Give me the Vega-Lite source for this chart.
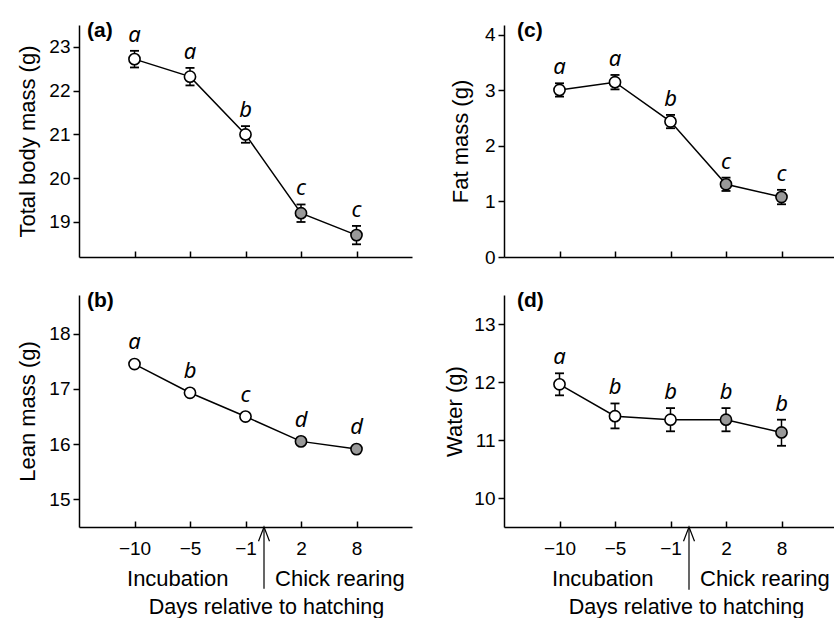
{
  "$schema": "https://vega.github.io/schema/vega-lite/v6.json",
  "padding": {"left": 16, "top": 20, "right": 0, "bottom": 0},
  "background": "white",
  "datasets": {
    "body": [
      {"panel": "a", "day": -10, "mean": 22.72, "lo": 22.53, "hi": 22.91, "letter": "a", "phase": "Incubation"},
      {"panel": "a", "day": -5, "mean": 22.32, "lo": 22.12, "hi": 22.52, "letter": "a", "phase": "Incubation"},
      {"panel": "a", "day": -1, "mean": 21.0, "lo": 20.81, "hi": 21.19, "letter": "b", "phase": "Incubation"},
      {"panel": "a", "day": 2, "mean": 19.2, "lo": 19.0, "hi": 19.4, "letter": "c", "phase": "Chick rearing"},
      {"panel": "a", "day": 8, "mean": 18.7, "lo": 18.49, "hi": 18.91, "letter": "c", "phase": "Chick rearing"},
      {"panel": "b", "day": -10, "mean": 17.45, "lo": 17.4, "hi": 17.5, "letter": "a", "phase": "Incubation"},
      {"panel": "b", "day": -5, "mean": 16.93, "lo": 16.88, "hi": 16.98, "letter": "b", "phase": "Incubation"},
      {"panel": "b", "day": -1, "mean": 16.5, "lo": 16.45, "hi": 16.55, "letter": "c", "phase": "Incubation"},
      {"panel": "b", "day": 2, "mean": 16.05, "lo": 16.0, "hi": 16.1, "letter": "d", "phase": "Chick rearing"},
      {"panel": "b", "day": 8, "mean": 15.91, "lo": 15.86, "hi": 15.96, "letter": "d", "phase": "Chick rearing"},
      {"panel": "c", "day": -10, "mean": 3.01, "lo": 2.89, "hi": 3.13, "letter": "a", "phase": "Incubation"},
      {"panel": "c", "day": -5, "mean": 3.15, "lo": 3.02, "hi": 3.28, "letter": "a", "phase": "Incubation"},
      {"panel": "c", "day": -1, "mean": 2.44, "lo": 2.32, "hi": 2.56, "letter": "b", "phase": "Incubation"},
      {"panel": "c", "day": 2, "mean": 1.31, "lo": 1.19, "hi": 1.43, "letter": "c", "phase": "Chick rearing"},
      {"panel": "c", "day": 8, "mean": 1.08, "lo": 0.95, "hi": 1.21, "letter": "c", "phase": "Chick rearing"},
      {"panel": "d", "day": -10, "mean": 11.96, "lo": 11.77, "hi": 12.15, "letter": "a", "phase": "Incubation"},
      {"panel": "d", "day": -5, "mean": 11.41, "lo": 11.2, "hi": 11.63, "letter": "b", "phase": "Incubation"},
      {"panel": "d", "day": -1, "mean": 11.35, "lo": 11.15, "hi": 11.55, "letter": "b", "phase": "Incubation"},
      {"panel": "d", "day": 2, "mean": 11.35, "lo": 11.15, "hi": 11.55, "letter": "b", "phase": "Chick rearing"},
      {"panel": "d", "day": 8, "mean": 11.13, "lo": 10.9, "hi": 11.35, "letter": "b", "phase": "Chick rearing"}
    ]
  },
  "columns": 2,
  "spacing": {"column": 92, "row": 38},
  "bounds": "flush",
  "concat": [
    {
      "width": 333, "height": 232,
      "data": {"name": "body"},
      "transform": [{"filter": "datum.panel === 'a'"}],
      "encoding": {
        "x": {"field": "day", "type": "quantitative",
          "scale": {"type": "linear", "domain": [-15, -10, -5, -1, 2, 8, 14], "range": [0, 55.5, 111, 166.5, 222, 277.5, 333], "zero": false, "nice": false},
          "axis": {"values": [-10, -5, -1, 2, 8], "labels": false, "title": null, "tickSize": -6}}
      },
      "layer": [
        {"mark": {"type": "line", "color": "black", "strokeWidth": 1.5},
         "encoding": {"y": {"field": "mean", "type": "quantitative", "scale": {"domain": [18.2, 23.5], "zero": false, "nice": false},
           "axis": {"values": [19, 20, 21, 22, 23], "format": "d", "title": "Total body mass (g)", "tickSize": 6, "labelPadding": 3, "titlePadding": 9}}}},
        {"mark": {"type": "rule", "color": "black", "strokeWidth": 1.5},
         "encoding": {"y": {"field": "lo", "type": "quantitative"}, "y2": {"field": "hi"}}},
        {"mark": {"type": "tick", "orient": "horizontal", "size": 9, "thickness": 1.8, "color": "black", "opacity": 1},
         "encoding": {"y": {"field": "lo", "type": "quantitative"}}},
        {"mark": {"type": "tick", "orient": "horizontal", "size": 9, "thickness": 1.8, "color": "black", "opacity": 1},
         "encoding": {"y": {"field": "hi", "type": "quantitative"}}},
        {"mark": {"type": "point", "filled": true, "size": 125, "stroke": "black", "strokeWidth": 1.6, "opacity": 1},
         "encoding": {"y": {"field": "mean", "type": "quantitative"},
           "fill": {"field": "phase", "type": "nominal", "scale": {"domain": ["Incubation", "Chick rearing"], "range": ["white", "#999999"]}, "legend": null}}},
        {"mark": {"type": "text", "font": "Noto Sans", "fontStyle": "italic", "fontSize": 22, "baseline": "alphabetic", "dy": -9, "color": "black"},
         "encoding": {"y": {"field": "hi", "type": "quantitative"}, "text": {"field": "letter"}}},
        {"transform": [{"filter": "datum.day === -10"}],
         "mark": {"type": "text", "font": "Liberation Sans", "fontWeight": "bold", "fontSize": 21, "align": "left", "baseline": "top", "dx": 8, "dy": -5, "color": "black"},
         "encoding": {"x": {"datum": -15}, "y": {"datum": 23.5}, "text": {"value": "(a)"}}}
      ]
    },
    {
      "width": 333, "height": 232,
      "data": {"name": "body"},
      "transform": [{"filter": "datum.panel === 'c'"}],
      "encoding": {
        "x": {"field": "day", "type": "quantitative",
          "scale": {"type": "linear", "domain": [-15, -10, -5, -1, 2, 8, 14], "range": [0, 55.5, 111, 166.5, 222, 277.5, 333], "zero": false, "nice": false},
          "axis": {"values": [-10, -5, -1, 2, 8], "labels": false, "title": null, "tickSize": -6}}
      },
      "layer": [
        {"mark": {"type": "line", "color": "black", "strokeWidth": 1.5},
         "encoding": {"y": {"field": "mean", "type": "quantitative", "scale": {"domain": [0, 4.18], "zero": false, "nice": false},
           "axis": {"values": [0, 1, 2, 3, 4], "format": "d", "title": "Fat mass (g)", "tickSize": 6, "labelPadding": 3, "titlePadding": 12}}}},
        {"mark": {"type": "rule", "color": "black", "strokeWidth": 1.5},
         "encoding": {"y": {"field": "lo", "type": "quantitative"}, "y2": {"field": "hi"}}},
        {"mark": {"type": "tick", "orient": "horizontal", "size": 9, "thickness": 1.8, "color": "black", "opacity": 1},
         "encoding": {"y": {"field": "lo", "type": "quantitative"}}},
        {"mark": {"type": "tick", "orient": "horizontal", "size": 9, "thickness": 1.8, "color": "black", "opacity": 1},
         "encoding": {"y": {"field": "hi", "type": "quantitative"}}},
        {"mark": {"type": "point", "filled": true, "size": 125, "stroke": "black", "strokeWidth": 1.6, "opacity": 1},
         "encoding": {"y": {"field": "mean", "type": "quantitative"},
           "fill": {"field": "phase", "type": "nominal", "scale": {"domain": ["Incubation", "Chick rearing"], "range": ["white", "#999999"]}, "legend": null}}},
        {"mark": {"type": "text", "font": "Noto Sans", "fontStyle": "italic", "fontSize": 22, "baseline": "alphabetic", "dy": -9, "color": "black"},
         "encoding": {"y": {"field": "hi", "type": "quantitative"}, "text": {"field": "letter"}}},
        {"transform": [{"filter": "datum.day === -10"}],
         "mark": {"type": "text", "font": "Liberation Sans", "fontWeight": "bold", "fontSize": 21, "align": "left", "baseline": "top", "dx": 13, "dy": -5, "color": "black"},
         "encoding": {"x": {"datum": -15}, "y": {"datum": 4.18}, "text": {"value": "(c)"}}}
      ]
    },
    {
      "width": 333, "height": 232,
      "data": {"name": "body"},
      "transform": [{"filter": "datum.panel === 'b'"}],
      "encoding": {
        "x": {"field": "day", "type": "quantitative",
          "scale": {"type": "linear", "domain": [-15, -10, -5, -1, 2, 8, 14], "range": [0, 55.5, 111, 166.5, 222, 277.5, 333], "zero": false, "nice": false},
          "axis": {"values": [-10, -5, -1, 2, 8], "title": "Days relative to hatching", "titleFontSize": 21.5, "tickSize": -6, "labelPadding": 18, "titleX": 187, "titleY": 69, "titleBaseline": "top"}}
      },
      "layer": [
        {"mark": {"type": "line", "color": "black", "strokeWidth": 1.5},
         "encoding": {"y": {"field": "mean", "type": "quantitative", "scale": {"domain": [14.5, 18.7], "zero": false, "nice": false},
           "axis": {"values": [15, 16, 17, 18], "format": "d", "title": "Lean mass (g)", "tickSize": 6, "labelPadding": 3, "titlePadding": 9}}}},
        {"mark": {"type": "rule", "color": "black", "strokeWidth": 1.5},
         "encoding": {"y": {"field": "lo", "type": "quantitative"}, "y2": {"field": "hi"}}},
        {"mark": {"type": "point", "filled": true, "size": 125, "stroke": "black", "strokeWidth": 1.6, "opacity": 1},
         "encoding": {"y": {"field": "mean", "type": "quantitative"},
           "fill": {"field": "phase", "type": "nominal", "scale": {"domain": ["Incubation", "Chick rearing"], "range": ["white", "#999999"]}, "legend": null}}},
        {"mark": {"type": "text", "font": "Noto Sans", "fontStyle": "italic", "fontSize": 22, "baseline": "alphabetic", "dy": -12, "color": "black"},
         "encoding": {"y": {"field": "hi", "type": "quantitative"}, "text": {"field": "letter"}}},
        {"transform": [{"filter": "datum.day === -10"}],
         "mark": {"type": "text", "font": "Liberation Sans", "fontWeight": "bold", "fontSize": 21, "align": "left", "baseline": "top", "dx": 8, "dy": -5, "color": "black"},
         "encoding": {"x": {"datum": -15}, "y": {"datum": 18.7}, "text": {"value": "(b)"}}},
        {"transform": [{"filter": "datum.day === -10"}],
         "mark": {"type": "text", "font": "Liberation Sans", "fontSize": 22, "baseline": "alphabetic", "dy": 59, "color": "black"},
         "encoding": {"x": {"datum": -6.1}, "y": {"datum": 14.5}, "text": {"value": "Incubation"}}},
        {"transform": [{"filter": "datum.day === 2"}],
         "mark": {"type": "text", "font": "Liberation Sans", "fontSize": 22, "baseline": "alphabetic", "dy": 59, "color": "black"},
         "encoding": {"x": {"datum": 6.2}, "y": {"datum": 14.5}, "text": {"value": "Chick rearing"}}},
        {"transform": [{"filter": "datum.day === -1"}],
         "mark": {"type": "rule", "color": "black", "strokeWidth": 1.2},
         "encoding": {"x": {"datum": 0}, "y": {"datum": 14.5}, "y2": {"datum": 13.38}}},
        {"transform": [{"filter": "datum.day === -1"}],
         "mark": {"type": "point", "shape": "M-1,2.6L0,0L1,2.6", "size": 121, "filled": false, "stroke": "black", "strokeWidth": 1.2, "opacity": 1},
         "encoding": {"x": {"datum": 0}, "y": {"datum": 14.5}}}
      ]
    },
    {
      "width": 333, "height": 232,
      "data": {"name": "body"},
      "transform": [{"filter": "datum.panel === 'd'"}],
      "encoding": {
        "x": {"field": "day", "type": "quantitative",
          "scale": {"type": "linear", "domain": [-15, -10, -5, -1, 2, 8, 14], "range": [0, 55.5, 111, 166.5, 222, 277.5, 333], "zero": false, "nice": false},
          "axis": {"values": [-10, -5, -1, 2, 8], "title": "Days relative to hatching", "titleFontSize": 21.5, "tickSize": -6, "labelPadding": 18, "titleX": 182, "titleY": 69, "titleBaseline": "top"}}
      },
      "layer": [
        {"mark": {"type": "line", "color": "black", "strokeWidth": 1.5},
         "encoding": {"y": {"field": "mean", "type": "quantitative", "scale": {"domain": [9.5, 13.5], "zero": false, "nice": false},
           "axis": {"values": [10, 11, 12, 13], "format": "d", "title": "Water (g)", "tickSize": 6, "labelPadding": 3, "titlePadding": 7}}}},
        {"mark": {"type": "rule", "color": "black", "strokeWidth": 1.5},
         "encoding": {"y": {"field": "lo", "type": "quantitative"}, "y2": {"field": "hi"}}},
        {"mark": {"type": "tick", "orient": "horizontal", "size": 9, "thickness": 1.8, "color": "black", "opacity": 1},
         "encoding": {"y": {"field": "lo", "type": "quantitative"}}},
        {"mark": {"type": "tick", "orient": "horizontal", "size": 9, "thickness": 1.8, "color": "black", "opacity": 1},
         "encoding": {"y": {"field": "hi", "type": "quantitative"}}},
        {"mark": {"type": "point", "filled": true, "size": 125, "stroke": "black", "strokeWidth": 1.6, "opacity": 1},
         "encoding": {"y": {"field": "mean", "type": "quantitative"},
           "fill": {"field": "phase", "type": "nominal", "scale": {"domain": ["Incubation", "Chick rearing"], "range": ["white", "#999999"]}, "legend": null}}},
        {"mark": {"type": "text", "font": "Noto Sans", "fontStyle": "italic", "fontSize": 22, "baseline": "alphabetic", "dy": -9, "color": "black"},
         "encoding": {"y": {"field": "hi", "type": "quantitative"}, "text": {"field": "letter"}}},
        {"transform": [{"filter": "datum.day === -10"}],
         "mark": {"type": "text", "font": "Liberation Sans", "fontWeight": "bold", "fontSize": 21, "align": "left", "baseline": "top", "dx": 13, "dy": -5, "color": "black"},
         "encoding": {"x": {"datum": -15}, "y": {"datum": 13.5}, "text": {"value": "(d)"}}},
        {"transform": [{"filter": "datum.day === -10"}],
         "mark": {"type": "text", "font": "Liberation Sans", "fontSize": 22, "baseline": "alphabetic", "dy": 59, "color": "black"},
         "encoding": {"x": {"datum": -6.1}, "y": {"datum": 9.5}, "text": {"value": "Incubation"}}},
        {"transform": [{"filter": "datum.day === 2"}],
         "mark": {"type": "text", "font": "Liberation Sans", "fontSize": 22, "baseline": "alphabetic", "dy": 59, "color": "black"},
         "encoding": {"x": {"datum": 6.2}, "y": {"datum": 9.5}, "text": {"value": "Chick rearing"}}},
        {"transform": [{"filter": "datum.day === -1"}],
         "mark": {"type": "rule", "color": "black", "strokeWidth": 1.2},
         "encoding": {"x": {"datum": 0}, "y": {"datum": 9.5}, "y2": {"datum": 8.42}}},
        {"transform": [{"filter": "datum.day === -1"}],
         "mark": {"type": "point", "shape": "M-1,2.6L0,0L1,2.6", "size": 121, "filled": false, "stroke": "black", "strokeWidth": 1.2, "opacity": 1},
         "encoding": {"x": {"datum": 0}, "y": {"datum": 9.5}}}
      ]
    }
  ],
  "config": {
    "view": {"stroke": null},
    "axis": {"grid": false, "domainColor": "black", "domainWidth": 1.5, "tickColor": "black", "tickWidth": 1.5,
      "labelColor": "black", "titleColor": "black", "labelFont": "Liberation Sans", "titleFont": "Liberation Sans",
      "labelFontSize": 19, "titleFontSize": 22, "titleFontWeight": "normal"}
  }
}
